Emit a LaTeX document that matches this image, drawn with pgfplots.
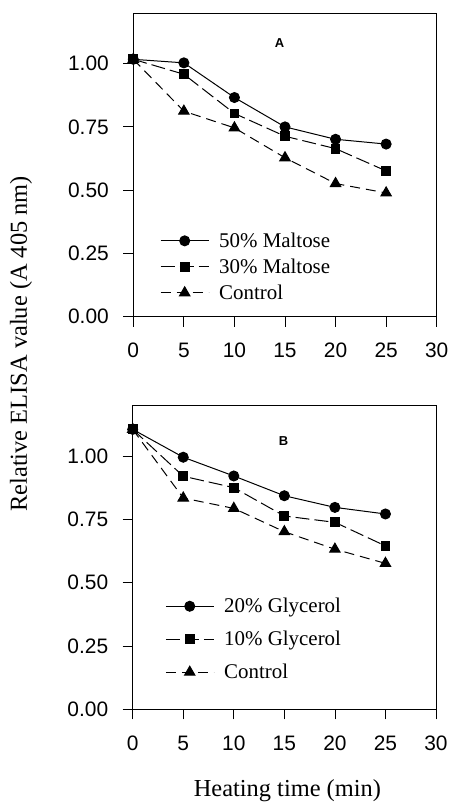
\documentclass[border=0pt]{standalone}
\usepackage{fontspec}
\setmainfont{Liberation Serif}
\newfontfamily\arial{Liberation Sans}
\usepackage{pgfplots}
\pgfplotsset{compat=1.18}

\pgfplotsset{
  elisa/.style={
    scale only axis,
    xmin=0, xmax=30, ymin=0, ymax=1.2,
    xtick={0,5,10,15,20,25,30},
    ytick={0,0.25,0.5,0.75,1},
    tick align=outside,
    major tick length=10bp,
    xtick pos=bottom, ytick pos=left,
    axis line style={line width=0.8bp},
    tick style={line width=0.8bp, black},
    tick label style={font=\arial\fontsize{21}{21}\selectfont},
    /pgf/number format/assume math mode=true,
    y tick label style={/pgf/number format/.cd, fixed, fixed zerofill, precision=2, /tikz/.cd, xshift=-11bp},
    x tick label style={/pgf/number format/.cd, fixed, /tikz/.cd, yshift=-13bp},
    clip=false,
    legend cell align=left,
    legend style={draw=none, fill=none, inner sep=0pt,
      font=\fontsize{21}{21}\selectfont, row sep=6bp},
    legend image code/.code={%
      \draw[mark repeat=2,mark phase=2]
        plot coordinates {(0bp,0bp) (24bp,0bp) (48bp,0bp)};
      \path (56bp,0bp);},
  },
  high/.style={black, line width=1bp, solid, mark=*, mark size=5bp, mark options={solid}},
  mid/.style={black, line width=1bp, dash pattern=on 14bp off 5bp, mark=square*, mark size=4.4bp, mark options={solid}},
  ctrl/.style={black, line width=1bp, dash pattern=on 10bp off 6bp, mark=triangle*, mark size=6bp, mark options={solid}},
}
\tikzset{panel letter/.style={font=\arial\bfseries\fontsize{13}{13}\selectfont}}

\begin{document}
\begin{tikzpicture}
\useasboundingbox (0bp,0bp) rectangle (450bp,802bp);
\coordinate (originA) at (133.3bp,485.3bp);
\coordinate (originB) at (132.7bp,92.7bp);

% Panel A: maltose
\begin{axis}[elisa,
  at={(originA)}, anchor=south west,
  width=303.4bp, height=303.7bp,
  legend style={at={(axis cs:2.64,0.34)}, anchor=north west},
]
\addplot[high] coordinates {(0,1.017) (5,1.003) (10,0.866) (15,0.750) (20,0.701) (25,0.682)};
\addlegendentry{50\% Maltose}
\addplot[mid] coordinates {(0,1.017) (5,0.958) (10,0.803) (15,0.713) (20,0.664) (25,0.576)};
\addlegendentry{30\% Maltose}
\addplot[ctrl] coordinates {(0,1.017) (5,0.812) (10,0.746) (15,0.628) (20,0.526) (25,0.489)};
\addlegendentry{Control}
\node[panel letter] at (axis cs:14.46,1.082) {A};
\end{axis}

% Panel B: glycerol
\begin{axis}[elisa,
  at={(originB)}, anchor=south west,
  width=303.3bp, height=304bp,
  legend style={at={(axis cs:3.2,0.447)}, anchor=north west, row sep=13bp},
  xlabel={Heating time (min)},
  xlabel style={at={(axis description cs:0.510,-0.268)}, anchor=center,
    font=\fontsize{24.5}{24.5}\selectfont},
  ylabel={Relative ELISA value (A 405 nm)},
  ylabel style={at={(axis description cs:-0.368,1.202)}, anchor=center,
    font=\fontsize{24.5}{24.5}\selectfont},
]
\addplot[high] coordinates {(0,1.105) (5,0.995) (10,0.921) (15,0.843) (20,0.797) (25,0.771)};
\addlegendentry{20\% Glycerol}
\addplot[mid] coordinates {(0,1.105) (5,0.920) (10,0.875) (15,0.763) (20,0.738) (25,0.645)};
\addlegendentry{10\% Glycerol}
\addplot[ctrl] coordinates {(0,1.105) (5,0.834) (10,0.793) (15,0.701) (20,0.632) (25,0.576)};
\addlegendentry{Control}
\node[panel letter] at (axis cs:14.92,1.058) {B};
\end{axis}
\end{tikzpicture}
\end{document}
